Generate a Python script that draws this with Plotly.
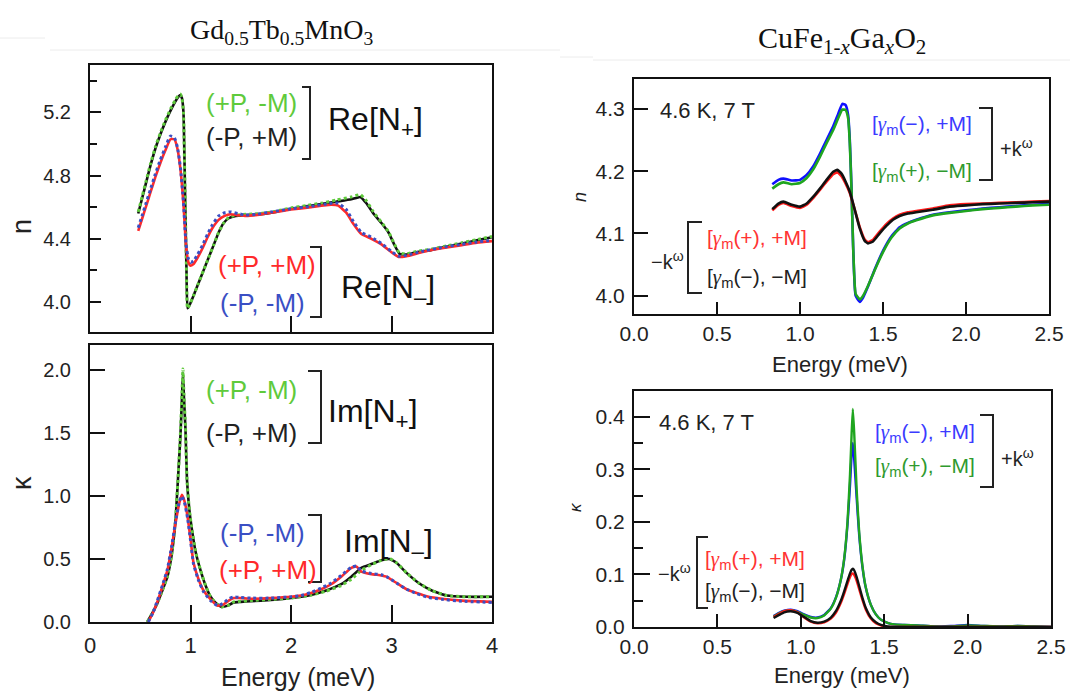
import plotly.graph_objects as go

W, H = 1070, 692

# ---------------- Left: Gd0.5Tb0.5MnO3 ----------------
# Re[N+] : (+P,-M) green dotted, (-P,+M) black
E_nplus = [0.48, 0.52, 0.56, 0.60, 0.65, 0.70, 0.75, 0.80, 0.85, 0.88, 0.90, 0.915, 0.93, 0.945, 0.96,
           0.97, 0.99, 1.03, 1.08, 1.13, 1.18, 1.23, 1.28, 1.33, 1.38, 1.45, 1.55, 1.70, 1.85, 2.00,
           2.15, 2.30, 2.45, 2.60, 2.69, 2.75, 2.82, 2.90, 2.97, 3.03, 3.08, 3.15, 3.25, 3.40, 3.55,
           3.70, 3.85, 4.00]
n_plus_black = [4.56, 4.66, 4.76, 4.86, 4.97, 5.06, 5.14, 5.21, 5.27, 5.30, 5.31, 5.29, 5.20, 4.72, 4.20,
                3.96, 3.98, 4.04, 4.12, 4.20, 4.28, 4.36, 4.44, 4.50, 4.53, 4.545, 4.55, 4.555, 4.57, 4.59,
                4.605, 4.62, 4.635, 4.65, 4.665, 4.625, 4.56, 4.50, 4.44, 4.36, 4.305, 4.30, 4.315, 4.33, 4.35,
                4.37, 4.39, 4.41]
n_plus_green = [4.57, 4.67, 4.77, 4.87, 4.98, 5.07, 5.15, 5.22, 5.28, 5.31, 5.315, 5.29, 5.20, 4.72, 4.20,
                3.96, 3.98, 4.04, 4.12, 4.20, 4.28, 4.36, 4.44, 4.50, 4.535, 4.55, 4.555, 4.56, 4.575, 4.595,
                4.61, 4.625, 4.645, 4.665, 4.68, 4.64, 4.57, 4.505, 4.445, 4.365, 4.31, 4.305, 4.32, 4.335, 4.355,
                4.375, 4.395, 4.415]
# Re[N-] : (+P,+M) red, (-P,-M) blue dotted
E_nminus = [0.48, 0.52, 0.56, 0.60, 0.65, 0.70, 0.75, 0.80, 0.84, 0.87, 0.90, 0.93, 0.955, 0.98, 1.00,
            1.03, 1.07, 1.12, 1.17, 1.22, 1.28, 1.34, 1.40, 1.47, 1.55, 1.65, 1.80, 2.00, 2.20, 2.40,
            2.47, 2.55, 2.62, 2.70, 2.80, 2.90, 3.00, 3.07, 3.15, 3.30, 3.50, 3.70, 3.85, 4.00]
n_minus_red = [4.45, 4.53, 4.61, 4.69, 4.79, 4.88, 4.96, 5.03, 5.03, 4.97, 4.84, 4.62, 4.36, 4.25, 4.23,
               4.24, 4.28, 4.34, 4.41, 4.47, 4.52, 4.545, 4.555, 4.55, 4.545, 4.55, 4.565, 4.585, 4.60, 4.615,
               4.61, 4.565, 4.495, 4.43, 4.40, 4.365, 4.315, 4.285, 4.29, 4.315, 4.34, 4.36, 4.375, 4.385]
n_minus_blue = [4.47, 4.55, 4.63, 4.71, 4.81, 4.90, 4.98, 5.05, 5.04, 4.98, 4.85, 4.63, 4.37, 4.27, 4.25,
                4.26, 4.30, 4.36, 4.43, 4.49, 4.545, 4.565, 4.57, 4.56, 4.55, 4.555, 4.57, 4.59, 4.605, 4.625,
                4.625, 4.585, 4.51, 4.44, 4.41, 4.37, 4.32, 4.29, 4.295, 4.32, 4.345, 4.365, 4.38, 4.39]

# Im[N+]
E_kplus = [0.57, 0.62, 0.67, 0.72, 0.77, 0.81, 0.85, 0.88, 0.90, 0.915, 0.925, 0.935, 0.95, 0.965, 0.99,
           1.015, 1.05, 1.10, 1.15, 1.20, 1.26, 1.31, 1.37, 1.43, 1.50, 1.60, 1.80, 2.00, 2.20, 2.35,
           2.50, 2.60, 2.70, 2.80, 2.90, 2.98, 3.05, 3.15, 3.27, 3.40, 3.55, 3.75, 4.00]
k_plus_green = [0.00, 0.07, 0.15, 0.25, 0.36, 0.52, 0.80, 1.20, 1.50, 1.80, 2.01, 1.80, 1.55, 1.13, 0.88,
                0.73, 0.56, 0.41, 0.29, 0.20, 0.145, 0.12, 0.13, 0.16, 0.165, 0.17, 0.18, 0.19, 0.215, 0.245,
                0.29, 0.34, 0.41, 0.455, 0.49, 0.505, 0.47, 0.39, 0.31, 0.25, 0.21, 0.20, 0.20]
k_plus_black = [0.00, 0.07, 0.15, 0.25, 0.36, 0.52, 0.80, 1.20, 1.48, 1.78, 1.98, 1.78, 1.53, 1.13, 0.88,
                0.73, 0.56, 0.41, 0.29, 0.20, 0.145, 0.12, 0.13, 0.155, 0.16, 0.165, 0.175, 0.19, 0.215, 0.25,
                0.30, 0.36, 0.43, 0.46, 0.49, 0.50, 0.47, 0.39, 0.31, 0.25, 0.21, 0.20, 0.20]
# Im[N-]
E_kminus = [0.58, 0.63, 0.67, 0.72, 0.77, 0.81, 0.85, 0.89, 0.915, 0.94, 0.97, 1.00, 1.03, 1.08, 1.13,
            1.20, 1.27, 1.33, 1.38, 1.43, 1.50, 1.60, 1.80, 2.00, 2.10, 2.20, 2.30, 2.40, 2.50, 2.60,
            2.65, 2.70, 2.80, 2.90, 2.95, 3.05, 3.15, 3.25, 3.37, 3.50, 3.70, 4.00]
k_minus_red = [0.00, 0.08, 0.16, 0.28, 0.41, 0.58, 0.78, 0.95, 1.01, 0.96, 0.84, 0.66, 0.47, 0.34, 0.25,
               0.18, 0.13, 0.14, 0.17, 0.19, 0.19, 0.185, 0.19, 0.20, 0.21, 0.23, 0.26, 0.30, 0.36, 0.43,
               0.44, 0.40, 0.38, 0.37, 0.36, 0.31, 0.26, 0.23, 0.20, 0.185, 0.17, 0.16]
k_minus_blue = [0.00, 0.08, 0.17, 0.29, 0.42, 0.59, 0.79, 0.96, 1.00, 0.95, 0.83, 0.65, 0.46, 0.33, 0.24,
                0.17, 0.13, 0.15, 0.185, 0.20, 0.195, 0.19, 0.19, 0.20, 0.21, 0.235, 0.27, 0.31, 0.37, 0.435,
                0.445, 0.405, 0.385, 0.375, 0.36, 0.31, 0.26, 0.225, 0.195, 0.18, 0.165, 0.155]

# ---------------- Right: CuFe1-xGaxO2 ----------------
E_r_plus = [0.833, 0.87, 0.90, 0.95, 1.00, 1.04, 1.08, 1.12, 1.16, 1.20, 1.23, 1.255, 1.275, 1.29, 1.30,
            1.31, 1.32, 1.335, 1.36, 1.38, 1.41, 1.45, 1.50, 1.55, 1.60, 1.65, 1.70, 1.80, 1.90, 2.00,
            2.10, 2.20, 2.30, 2.40, 2.50]
nr_blue = [4.179, 4.186, 4.188, 4.185, 4.186, 4.194, 4.208, 4.228, 4.250, 4.272, 4.292, 4.308, 4.306, 4.29, 4.25,
           4.175, 4.08, 4.00, 3.990, 3.997, 4.015, 4.042, 4.072, 4.095, 4.110, 4.117, 4.122, 4.130, 4.134, 4.137,
           4.140, 4.142, 4.144, 4.146, 4.147]
nr_green = [4.172, 4.179, 4.182, 4.179, 4.181, 4.189, 4.203, 4.223, 4.245, 4.266, 4.285, 4.299, 4.298, 4.285, 4.245,
            4.172, 4.08, 4.003, 3.994, 4.000, 4.016, 4.041, 4.070, 4.093, 4.108, 4.116, 4.121, 4.129, 4.133, 4.136,
            4.139, 4.141, 4.143, 4.145, 4.146]
E_r_minus = [0.833, 0.87, 0.90, 0.95, 1.00, 1.04, 1.08, 1.12, 1.16, 1.20, 1.225, 1.25, 1.275, 1.30, 1.33,
             1.36, 1.39, 1.41, 1.44, 1.48, 1.52, 1.56, 1.60, 1.65, 1.70, 1.80, 1.90, 2.00, 2.10, 2.20,
             2.30, 2.40, 2.50]
nr_black = [4.139, 4.148, 4.151, 4.146, 4.143, 4.148, 4.159, 4.172, 4.186, 4.199, 4.202, 4.196, 4.183, 4.167, 4.138,
            4.108, 4.088, 4.084, 4.087, 4.100, 4.112, 4.122, 4.128, 4.132, 4.134, 4.138, 4.143, 4.145, 4.147, 4.148,
            4.149, 4.150, 4.151]
nr_red = [4.137, 4.146, 4.149, 4.144, 4.141, 4.146, 4.157, 4.170, 4.183, 4.195, 4.198, 4.192, 4.180, 4.165, 4.138,
          4.110, 4.090, 4.086, 4.090, 4.103, 4.115, 4.124, 4.130, 4.134, 4.136, 4.140, 4.145, 4.147, 4.148, 4.149,
          4.150, 4.151, 4.152]

E_rk = [0.837, 0.87, 0.90, 0.94, 0.98, 1.02, 1.06, 1.10, 1.14, 1.18, 1.21, 1.24, 1.26, 1.28, 1.295,
        1.305, 1.312, 1.32, 1.335, 1.35, 1.37, 1.39, 1.42, 1.45, 1.48, 1.52, 1.56, 1.62, 1.70, 1.80,
        1.90, 2.00, 2.10, 2.20, 2.30, 2.40, 2.50]
kr_green = [0.020, 0.026, 0.030, 0.032, 0.029, 0.023, 0.018, 0.017, 0.022, 0.035, 0.055, 0.090, 0.130, 0.200, 0.290,
            0.370, 0.415, 0.370, 0.260, 0.180, 0.115, 0.075, 0.042, 0.024, 0.014, 0.008, 0.005, 0.004, 0.003, 0.001,
            0.001, 0.003, 0.002, 0.001, 0.002, 0.001, 0.000]
kr_blue = [0.021, 0.027, 0.031, 0.033, 0.030, 0.024, 0.019, 0.018, 0.023, 0.036, 0.056, 0.090, 0.128, 0.195, 0.270,
           0.330, 0.350, 0.320, 0.245, 0.175, 0.113, 0.074, 0.042, 0.024, 0.014, 0.008, 0.005, 0.004, 0.003, 0.001,
           0.002, 0.004, 0.002, 0.001, 0.002, 0.001, 0.000]
kr_black = [0.017, 0.023, 0.028, 0.030, 0.027, 0.019, 0.011, 0.008, 0.010, 0.018, 0.030, 0.050, 0.068, 0.088, 0.102,
            0.109, 0.111, 0.108, 0.095, 0.078, 0.055, 0.036, 0.018, 0.009, 0.004, 0.001, 0.000, 0.000, 0.000, 0.000,
            0.000, 0.000, 0.000, 0.000, 0.000, 0.000, 0.000]
kr_red = [0.019, 0.025, 0.030, 0.032, 0.028, 0.018, 0.010, 0.007, 0.009, 0.016, 0.027, 0.046, 0.063, 0.082, 0.095,
          0.101, 0.102, 0.099, 0.088, 0.072, 0.051, 0.033, 0.016, 0.007, 0.003, 0.000, 0.000, 0.000, 0.000, 0.000,
          0.000, 0.000, 0.000, 0.000, 0.000, 0.000, 0.000]

# ---------------- colours ----------------
L_GREEN, L_BLUE, L_RED, BLACK = "#5fca3c", "#3a4fc4", "#ff2a2a", "#111111"
R_BLUE, R_GREEN, R_RED = "#1010ff", "#1fa51f", "#ff1a1a"

SANS = "Liberation Sans, Arial, sans-serif"
SERIF = "Liberation Serif, Times New Roman, serif"

fig = go.Figure()


def add(x, y, color, ax, width=2.6, dash="solid"):
    fig.add_trace(go.Scatter(x=x, y=y, mode="lines", xaxis="x" + ax, yaxis="y" + ax,
                             line=dict(color=color, width=width, dash=dash, shape="spline", smoothing=0.4),
                             showlegend=False, hoverinfo="skip"))


add(E_nplus, n_plus_black, BLACK, "", 2.6)
add(E_nplus, n_plus_green, L_GREEN, "", 3, "dot")
add(E_nminus, n_minus_red, L_RED, "", 2.6)
add(E_nminus, n_minus_blue, L_BLUE, "", 3, "dot")

add(E_kplus, k_plus_black, BLACK, "2", 2.6)
add(E_kplus, k_plus_green, L_GREEN, "2", 3, "dot")
add(E_kminus, k_minus_red, L_RED, "2", 2.6)
add(E_kminus, k_minus_blue, L_BLUE, "2", 3, "dot")

add(E_r_plus, nr_blue, R_BLUE, "3", 2.6)
add(E_r_plus, nr_green, R_GREEN, "3", 2.6)
add(E_r_minus, nr_red, R_RED, "3", 2.6)
add(E_r_minus, nr_black, BLACK, "3", 2.6)

add(E_rk, kr_blue, R_BLUE, "4", 2.4)
add(E_rk, kr_green, R_GREEN, "4", 2.4)
add(E_rk, kr_red, R_RED, "4", 2.4)
add(E_rk, kr_black, BLACK, "4", 2.4)


def px(x, y):
    return x / W, 1 - y / H


def dom_x(a, b):
    return [a / W, b / W]


def dom_y(top, bottom):
    return [1 - bottom / H, 1 - top / H]


axis_common = dict(showline=True, linecolor="#111", linewidth=2, mirror=True, ticks="inside",
                   tickcolor="#111", tickwidth=2, showgrid=False, zeroline=False, automargin=False,
                   tickfont=dict(family=SANS, color="#222"))

layout = dict(
    width=W, height=H, margin=dict(l=0, r=0, t=0, b=0),
    paper_bgcolor="white", plot_bgcolor="white", showlegend=False,
    xaxis=dict(axis_common, domain=dom_x(90, 492), range=[0, 4], anchor="y", dtick=1, tick0=0,
               ticklen=16, showticklabels=False),
    yaxis=dict(axis_common, domain=dom_y(65, 332), range=[3.81, 5.50], anchor="x", dtick=0.4, tick0=4.0,
               ticklen=11, tickformat=".1f", tickfont=dict(family=SANS, size=20, color="#222"),
               ticklabelstandoff=13,
               minor=dict(ticks="inside", ticklen=7, dtick=0.2, tick0=4.0, tickwidth=2, tickcolor="#111")),
    xaxis2=dict(axis_common, domain=dom_x(90, 492), range=[0, 4], anchor="y2", dtick=1, tick0=0,
                ticklen=17, tickfont=dict(family=SANS, size=22, color="#222"), ticklabelstandoff=3),
    yaxis2=dict(axis_common, domain=dom_y(345, 622), range=[0, 2.2], anchor="x2", dtick=0.5, tick0=0,
                ticklen=15, tickformat=".1f", tickfont=dict(family=SANS, size=20, color="#222"),
                ticklabelstandoff=13),
    xaxis3=dict(axis_common, domain=dom_x(634, 1049), range=[0, 2.5], anchor="y3", dtick=0.5, tick0=0,
                ticklen=12, tickformat=".1f", tickfont=dict(family=SANS, size=21, color="#222"),
                ticklabelstandoff=0),
    yaxis3=dict(axis_common, domain=dom_y(79, 314), range=[3.9706, 4.348], anchor="x3", dtick=0.1, tick0=4.0,
                ticklen=14, tickformat=".1f", tickfont=dict(family=SANS, size=21, color="#222"),
                ticklabelstandoff=3),
    xaxis4=dict(axis_common, domain=dom_x(634, 1051), range=[0, 2.5], anchor="y4", dtick=0.5, tick0=0,
                ticklen=13, tickformat=".1f", tickfont=dict(family=SANS, size=21, color="#222"),
                ticklabelstandoff=0),
    yaxis4=dict(axis_common, domain=dom_y(391, 627), range=[0, 0.449], anchor="x4", dtick=0.1, tick0=0,
                ticklen=16, tickformat=".1f", tickfont=dict(family=SANS, size=21, color="#222"),
                ticklabelstandoff=3,
                minor=dict(ticks="inside", ticklen=9, dtick=0.05, tick0=0, tickwidth=2, tickcolor="#111")),
)
fig.update_layout(**layout)

ann = []


def text(x, y, s, size, color="#222", xanchor="center", family=SANS, angle=0):
    X, Y = px(x, y)
    ann.append(dict(x=X, y=Y, xref="paper", yref="paper", text=s, showarrow=False,
                    xanchor=xanchor, yanchor="middle", textangle=angle,
                    font=dict(family=family, size=size, color=color)))


# titles
text(281, 32, "Gd<sub>0.5</sub>Tb<sub>0.5</sub>MnO<sub>3</sub>", 28, "#111", family=SERIF)
text(842, 40, "CuFe<sub>1-<i>x</i></sub>Ga<sub><i>x</i></sub>O<sub>2</sub>", 30, "#111", family=SERIF)

# axis titles
text(22, 227, "n", 27, "#222", angle=-90)
text(22, 483, "κ", 27, "#222", angle=-90)
text(298, 677, "Energy (meV)", 25, "#222")
text(580, 197, "<i>n</i>", 18, "#222", angle=-90)
text(576, 507, "<i>κ</i>", 17, "#222", angle=-90)
text(840, 364, "Energy (meV)", 22, "#222")
text(842, 675, "Energy (meV)", 22, "#222")

# left top
text(251, 103, "(+P, -M)", 26, L_GREEN)
text(251, 137, "(-P, +M)", 26, "#222")
text(375, 122, "Re[N<sub>+</sub>]", 32, "#111")
text(267, 265, "(+P, +M)", 26, L_RED)
text(262, 303, "(-P, -M)", 26, L_BLUE)
text(388, 290, "Re[N<sub>–</sub>]", 32, "#111")

# left bottom
text(251, 390, "(+P, -M)", 26, L_GREEN)
text(251, 433, "(-P, +M)", 26, "#222")
text(373, 413, "Im[N<sub>+</sub>]", 32, "#111")
text(262, 533, "(-P, -M)", 26, L_BLUE)
text(268, 570, "(+P, +M)", 26, L_RED)
text(388, 543, "Im[N<sub>–</sub>]", 32, "#111")

G = "<span style='font-family:Liberation Serif'><i>γ</i></span><sub>m</sub>"
# right top
text(658, 110, "4.6 K, 7 T", 22, "#222", xanchor="left")
text(870, 125, "[" + G + "(−), +M]", 21, "#3b3bff", xanchor="left")
text(870, 172, "[" + G + "(+), −M]", 21, "#2f9a2f", xanchor="left")
text(998, 147, "+k<sup>ω</sup>", 20, "#222", xanchor="left")
text(705, 239, "[" + G + "(+), +M]", 21, "#ff3333", xanchor="left")
text(705, 278, "[" + G + "(−), −M]", 21, "#222", xanchor="left")
text(686, 260, "−k<sup>ω</sup>", 20, "#222", xanchor="right")

# right bottom
text(657, 422, "4.6 K, 7 T", 22, "#222", xanchor="left")
text(873, 433, "[" + G + "(−), +M]", 21, "#3b3bff", xanchor="left")
text(873, 467, "[" + G + "(+), −M]", 21, "#2f9a2f", xanchor="left")
text(999, 457, "+k<sup>ω</sup>", 20, "#222", xanchor="left")
text(703, 560, "[" + G + "(+), +M]", 21, "#ff3333", xanchor="left")
text(703, 592, "[" + G + "(−), −M]", 21, "#222", xanchor="left")
text(693, 572, "−k<sup>ω</sup>", 20, "#222", xanchor="right")

fig.update_layout(annotations=ann)

shapes = []


def bracket(x_arm, x_bar, y1, y2, width=2):
    a1, b1 = px(x_arm, y1)
    a2, b2 = px(x_bar, y2)
    path = f"M {a1} {b1} L {a2} {b1} L {a2} {b2} L {a1} {b2}"
    shapes.append(dict(type="path", path=path, xref="paper", yref="paper",
                       line=dict(color="#222", width=width)))


bracket(302, 310, 87, 159)
bracket(310, 321, 247, 317)
bracket(308, 321, 371, 443)
bracket(308, 321, 515, 582)
bracket(979, 992, 108, 180)
bracket(702, 688, 222, 293)
bracket(980, 993, 415, 487)
bracket(708, 697, 537, 608)


def hline(x1, x2, y):
    a1, b = px(x1, y)
    a2, _ = px(x2, y)
    shapes.append(dict(type="line", x0=a1, x1=a2, y0=b, y1=b, xref="paper", yref="paper",
                       line=dict(color="#ececec", width=1)))


hline(0, 45, 38)
hline(50, 560, 50)
hline(560, 593, 57)
hline(593, 1070, 60)

fig.update_layout(shapes=shapes)

fig.write_html("out.html", config={"displayModeBar": False},
               post_script="document.body.style.margin='0';document.body.style.overflow='hidden';")
